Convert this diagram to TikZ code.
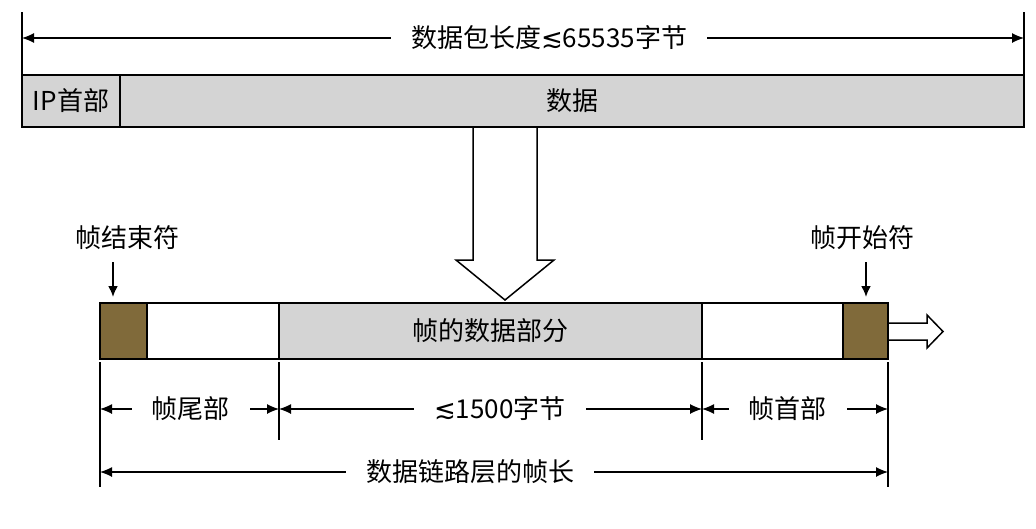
\documentclass[tikz,border=0pt]{standalone}
\usepackage{fontspec}
\setmainfont{Noto Sans CJK SC}
\newfontfamily\symfont{DejaVu Sans}
\usepackage{xcolor}
\usetikzlibrary{arrows.meta}
\definecolor{boxgray}{RGB}{212,212,212}
\definecolor{markbrown}{RGB}{128,106,58}
\newcommand{\lsim}{{\symfont ≲}}
\tikzset{
  txt/.style={font=\fontsize{26}{30}\selectfont},
  seg/.style={txt, draw, line width=1.5pt, anchor=north west, inner sep=0pt, outer sep=0pt},
  dim/.style={{Latex[length=12pt,width=10pt]}-{Latex[length=12pt,width=10pt]}, line width=1.2pt},
  tick/.style={line width=1.2pt},
  lbl/.style={txt, fill=white, inner xsep=20pt, inner ysep=1pt},
  pointer/.style={-{Latex[length=11pt,width=10pt]}, line width=2pt},
  hollow/.style={line width=1.5pt, line join=miter}
}

\begin{document}
\begin{tikzpicture}[x=1pt, y=-1pt]
\useasboundingbox (0,0) rectangle (1036,528);
% IP packet
\node[seg, fill=boxgray, minimum width=98, minimum height=52] (iphdr) at (22,75) {IP首部};
\node[seg, fill=boxgray, minimum width=904, minimum height=52] (ipdata) at (iphdr.north east) {数据};
\coordinate (pkL) at (22,12);
\coordinate (pkR) at (1024,12);
\draw[tick] (pkL) -- (iphdr.north west);
\draw[tick] (pkR) -- (ipdata.north east);
\draw[dim] ([yshift=-26pt]pkL) -- ([yshift=-26pt]pkR) node[lbl, pos=0.526] {数据包长度\lsim 65535字节};

% hollow arrow down
\draw[hollow] (473,127) -- (473,260) -- (456,260) -- (505,300) -- (554,260) -- (537,260) -- (537,127);

% frame
\node[seg, fill=markbrown, minimum width=47, minimum height=56] (endmark) at (100,303) {};
\node[seg, fill=white, minimum width=132, minimum height=56] (trailer) at (endmark.north east) {};
\node[seg, fill=boxgray, minimum width=423, minimum height=56] (payload) at (trailer.north east) {帧的数据部分};
\node[seg, fill=white, minimum width=141, minimum height=56] (header) at (payload.north east) {};
\node[seg, fill=markbrown, minimum width=45, minimum height=56] (startmark) at (header.north east) {};

% hollow arrow right
\draw[hollow] (888,323) -- (927,323) -- (927,315) -- (943,331.5) -- (927,348) -- (927,340) -- (888,340);

% frame delimiters
\node[txt] (endlbl) at (127,238) {帧结束符};
\node[txt] (startlbl) at (862,238) {帧开始符};
\draw[pointer] ([xshift=-10.5pt]endmark.north) ++(0,-41) -- ++(0,35);
\draw[pointer] ([xshift=0.5pt]startmark.north) ++(0,-41) -- ++(0,35);

% dimension ticks
\coordinate (rowA) at (0,409);
\coordinate (rowB) at (0,472);
\coordinate (longEnd) at (0,487);
\coordinate (shortEnd) at (0,440);
\draw[tick] ([yshift=-3pt]endmark.south west) -- (endmark.south west |- longEnd);
\draw[tick] ([yshift=-3pt]trailer.south east) -- (trailer.south east |- shortEnd);
\draw[tick] ([yshift=-3pt]payload.south east) -- (payload.south east |- shortEnd);
\draw[tick] ([yshift=-3pt]startmark.south east) -- (startmark.south east |- longEnd);

% dimensions
\draw[dim] (endmark.south west |- rowA) -- (trailer.south east |- rowA) node[lbl, pos=0.508] {帧尾部};
\draw[dim] (payload.south west |- rowA) -- (payload.south east |- rowA) node[lbl, pos=0.522] {\lsim 1500字节};
\draw[dim] (header.south west |- rowA) -- (startmark.south east |- rowA) node[lbl, pos=0.46] {帧首部};
\draw[dim] (endmark.south west |- rowB) -- (startmark.south east |- rowB) node[lbl, pos=0.47] {数据链路层的帧长};
\end{tikzpicture}
\end{document}
